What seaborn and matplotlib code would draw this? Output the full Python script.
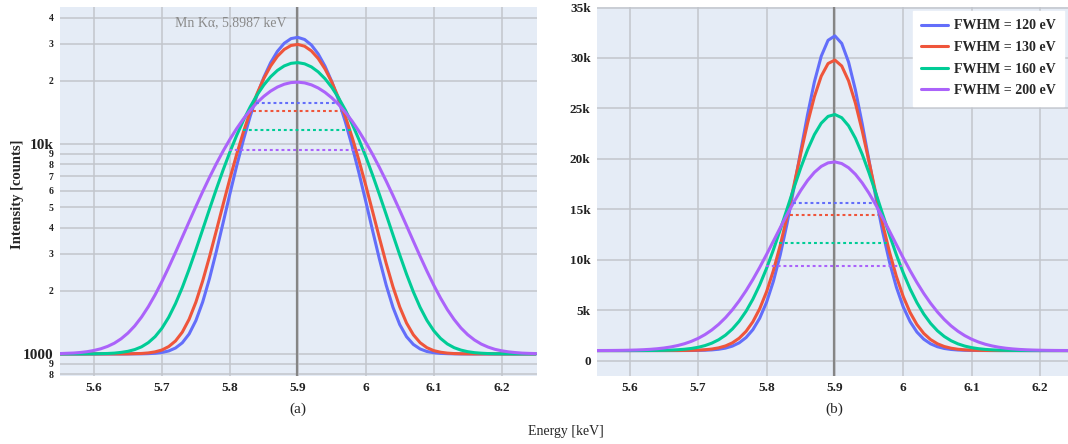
import numpy as np
import pandas as pd
import matplotlib
matplotlib.use("Agg")
import matplotlib.pyplot as plt
import seaborn as sns
from matplotlib.ticker import FixedLocator, FixedFormatter

# Energy axis of the simulated spectra [keV]
energy = np.round(np.arange(5.55, 6.2501, 0.01), 2)

# Mn K-alpha line position [keV]
line_energy = 5.8987

# Detector resolutions [eV]
fwhm_ev = [120, 130, 160, 200]

# Peak height above the flat background, per resolution [counts]
peak_above_bg = [31200, 28800, 23400, 18700]

# Simulated spectra [counts], one per resolution
counts_120 = [1000, 1000, 1000, 1000, 1000, 1000, 1000, 1000, 1000, 1000, 1000, 1001, 1001, 1003,
              1007, 1016, 1033, 1067, 1130, 1244, 1442, 1768, 2286, 3070, 4207, 5781, 7859, 10468,
              13575, 17070, 20762, 24384, 27624, 30168, 31749, 32190, 31442, 29590, 26836, 23466,
              19797, 16133, 12724, 9739, 7268, 5326, 3873, 2836, 2129, 1668, 1380, 1208, 1110, 1056,
              1027, 1013, 1006, 1003, 1001, 1000, 1000, 1000, 1000, 1000, 1000, 1000, 1000, 1000,
              1000, 1000, 1000]
counts_130 = [1000, 1000, 1000, 1000, 1000, 1000, 1000, 1000, 1000, 1000, 1001, 1003, 1005, 1011,
              1023, 1044, 1084, 1153, 1270, 1462, 1765, 2227, 2902, 3854, 5145, 6825, 8922, 11425,
              14277, 17364, 20517, 23526, 26160, 28194, 29445, 29792, 29203, 27734, 25524, 22770,
              19702, 16547, 13508, 10738, 8336, 6349, 4774, 3577, 2702, 2089, 1674, 1403, 1234, 1131,
              1071, 1037, 1019, 1009, 1004, 1002, 1001, 1000, 1000, 1000, 1000, 1000, 1000, 1000,
              1000, 1000, 1000]
counts_160 = [1000, 1000, 1000, 1000, 1001, 1001, 1003, 1005, 1009, 1017, 1029, 1049, 1081, 1132,
              1209, 1325, 1495, 1737, 2073, 2530, 3134, 3913, 4892, 6087, 7508, 9147, 10980, 12964,
              15035, 17112, 19099, 20896, 22403, 23530, 24209, 24396, 24079, 23278, 22044, 20453,
              18597, 16576, 14493, 12437, 10487, 8701, 7117, 5755, 4617, 3692, 2961, 2398, 1975, 1666,
              1445, 1291, 1186, 1116, 1071, 1043, 1025, 1014, 1008, 1004, 1002, 1001, 1001, 1000,
              1000, 1000, 1000]
counts_200 = [1004, 1007, 1010, 1016, 1025, 1039, 1058, 1086, 1125, 1181, 1257, 1360, 1498, 1679,
              1913, 2212, 2585, 3044, 3601, 4263, 5038, 5929, 6932, 8042, 9244, 10519, 11839, 13173,
              14482, 15727, 16865, 17856, 18662, 19252, 19602, 19698, 19535, 19121, 18472, 17615,
              16582, 15412, 14146, 12827, 11493, 10182, 8924, 7744, 6661, 5686, 4826, 4081, 3446,
              2916, 2480, 2127, 1847, 1627, 1459, 1330, 1235, 1165, 1114, 1078, 1052, 1035, 1023,
              1015, 1009, 1006, 1004]

x_ticks = [5.6, 5.7, 5.8, 5.9, 6.0, 6.1, 6.2]
x_tick_labels = ["5.6", "5.7", "5.8", "5.9", "6", "6.1", "6.2"]
log_major = [1000, 10000]
log_major_labels = ["1000", "10k"]
log_minor = [800, 900, 2000, 3000, 4000, 5000, 6000, 7000, 8000, 9000, 20000, 30000, 40000]
log_minor_labels = ["8", "9", "2", "3", "4", "5", "6", "7", "8", "9", "2", "3", "4"]
lin_ticks = [0, 5000, 10000, 15000, 20000, 25000, 30000, 35000]
lin_tick_labels = ["0", "5k", "10k", "15k", "20k", "25k", "30k", "35k"]

labels = [f"FWHM = {f} eV" for f in fwhm_ev]
spectra = [counts_120, counts_130, counts_160, counts_200]
df = pd.concat(
    [pd.DataFrame({"energy": energy, "counts": c, "label": lab}) for c, lab in zip(spectra, labels)],
    ignore_index=True,
)

sns.set_theme(style="darkgrid")
plt.rcParams["font.family"] = ["Liberation Serif", "DejaVu Serif"]
colors = ["#636EFA", "#EF553B", "#00CC96", "#AB63FA"]
grid_color = "#c2c5cc"

fig = plt.figure(figsize=(10.68, 4.44), dpi=100)
ax_log = fig.add_axes([60 / 1068, 68 / 444, 477 / 1068, 369 / 444])
ax_lin = fig.add_axes([597 / 1068, 68 / 444, 471 / 1068, 369 / 444])

for ax in (ax_log, ax_lin):
    ax.set_facecolor("#E5ECF6")
    sns.lineplot(data=df, x="energy", y="counts", hue="label", palette=colors,
                 estimator=None, linewidth=2.2, ax=ax, legend=(ax is ax_lin), zorder=3)
    # half-maximum markers spanning one FWHM around the line
    for f, a, col in zip(fwhm_ev, peak_above_bg, colors):
        half = f / 2000
        ax.plot([line_energy - half, line_energy + half], [a / 2, a / 2],
                color=col, lw=1.5, ls=(0, (1.4, 1.4)), zorder=3)
    ax.axvline(line_energy, color="#858585", lw=1.6, zorder=2)
    ax.set_xticks(x_ticks)
    ax.set_xticklabels(x_tick_labels)
    ax.grid(True, which="both", color=grid_color, lw=1.1)
    for sp in ax.spines.values():
        sp.set_visible(False)
    ax.set_xlabel("")
    ax.set_ylabel("")
    ax.tick_params(axis="both", which="both", length=2.5, width=1, color="#b0b0b0", pad=2,
                   labelsize=9.5, labelcolor="#222222")
    for t in ax.get_xticklabels():
        t.set_fontweight("bold")

ax_log.set_xlim(5.55, 6.252)
ax_lin.set_xlim(5.552, 6.241)

ax_log.set_yscale("log")
ax_log.set_ylim(785, 44900)
ax_log.yaxis.set_major_locator(FixedLocator(log_major))
ax_log.yaxis.set_major_formatter(FixedFormatter(log_major_labels))
ax_log.yaxis.set_minor_locator(FixedLocator(log_minor))
ax_log.yaxis.set_minor_formatter(FixedFormatter(log_minor_labels))
ax_log.tick_params(axis="y", which="major", labelsize=11)
ax_log.tick_params(axis="y", which="minor", labelsize=7)
for t in ax_log.get_yticklabels(which="both"):
    t.set_fontweight("bold")

ax_lin.set_ylim(-1520, 35050)
ax_lin.set_yticks(lin_ticks)
ax_lin.set_yticklabels(lin_tick_labels)
for t in ax_lin.get_yticklabels():
    t.set_fontweight("bold")

leg = ax_lin.legend(loc="upper right", bbox_to_anchor=(0.9915, 0.989), borderaxespad=0,
                    frameon=True, fancybox=False, facecolor="white", edgecolor="white",
                    framealpha=1, handlelength=1.9, handletextpad=0.45, labelspacing=0.62,
                    borderpad=0.6, prop={"size": 10, "weight": "bold"})
for h in leg.get_lines():
    h.set_linewidth(2.2)

ax_log.text(line_energy - 0.016, 38000, "Mn Kα, 5.8987 keV", ha="right", va="center",
            color="#8a8a8a", fontsize=10)
fig.text(298 / 1068, 1 - 409 / 444, "(a)", ha="center", va="center", fontsize=11)
fig.text(834 / 1068, 1 - 409 / 444, "(b)", ha="center", va="center", fontsize=11)
fig.text(566 / 1068, 1 - 431 / 444, "Energy [keV]", ha="center", va="center", fontsize=10)
fig.text(18 / 1068, 1 - 194 / 444, "Intensity [counts]", ha="center", va="center",
         rotation=90, fontsize=10.5, fontweight="bold")

fig.savefig("out.png", dpi=100)
